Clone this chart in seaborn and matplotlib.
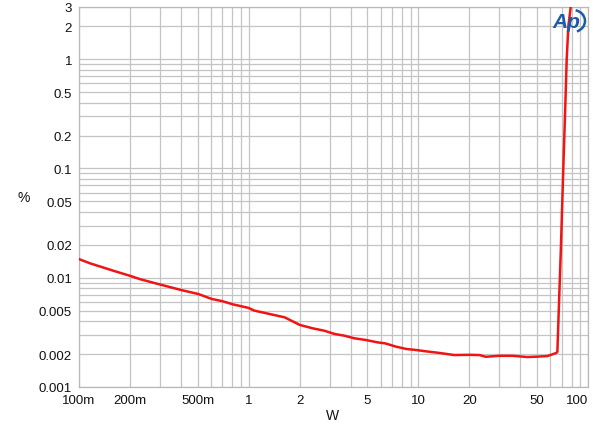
import numpy as np
import pandas as pd
import matplotlib
matplotlib.use("Agg")
import matplotlib.pyplot as plt
from matplotlib.patches import Arc
import seaborn as sns

# THD+N vs output power
power_w = [0.1, 0.116, 0.159, 0.2, 0.229, 0.274, 0.402, 0.504, 0.604, 0.700,
           0.809, 0.995, 1.08, 1.63, 2.0, 2.39, 2.80, 3.2, 3.66, 4.2,
           4.92, 5.76, 6.36, 7.39, 8.47, 9.7, 11.1, 13.3, 16.3, 20,
           22.9, 25, 30, 35.9, 44, 51.5, 57.7, 65.1, 66.0, 67.6,
           69.2, 71.5, 73.7, 74.9, 76.6, 79.1]
thd_pct = [0.0148, 0.01355, 0.0116, 0.0104, 0.0097, 0.0090, 0.0077, 0.0071, 0.0064, 0.0061,
           0.0057, 0.0053, 0.0050, 0.00434, 0.0037, 0.00344, 0.00327, 0.00306, 0.00295, 0.00279,
           0.00269, 0.00256, 0.00251, 0.00234, 0.00223, 0.00218, 0.00212, 0.00205, 0.00196, 0.00197,
           0.00196, 0.00189, 0.00193, 0.00193, 0.00188, 0.0019, 0.00192, 0.00205, 0.0021, 0.0064,
           0.0183, 0.099, 0.43, 1.0, 2.0, 3.0]

x_ticks = [0.1, 0.2, 0.5, 1, 2, 5, 10, 20, 50, 100]
x_labels = ["100m", "200m", "500m", "1", "2", "5", "10", "20", "50", "100"]
y_ticks = [0.001, 0.002, 0.005, 0.01, 0.02, 0.05, 0.1, 0.2, 0.5, 1, 2, 3]
y_labels = ["0.001", "0.002", "0.005", "0.01", "0.02", "0.05", "0.1", "0.2", "0.5", "1", "2", "3"]

df = pd.DataFrame({"W": power_w, "pct": thd_pct})

sns.set_style("white")
plt.rcParams["font.family"] = ["Liberation Sans", "DejaVu Sans"]

fig = plt.figure(figsize=(6, 4.27), dpi=100)
ax = fig.add_axes([79 / 600, 1 - 388 / 427, 509 / 600, 380 / 427])

grid_col = "#c4c4c4"
ax.set_xscale("log")
ax.set_yscale("log")
ax.set_xlim(0.1, 100)
ax.set_ylim(0.001, 3)

ax.grid(True, which="both", color=grid_col, linewidth=0.9)
ax.set_axisbelow(True)

sns.lineplot(data=df, x="W", y="pct", sort=False, estimator=None,
             color="#f01414", linewidth=1.8, ax=ax, zorder=5)

ax.set_xticks(x_ticks)
ax.set_xticklabels(x_labels)
ax.set_yticks(y_ticks)
ax.set_yticklabels(y_labels)
ax.xaxis.set_minor_formatter(matplotlib.ticker.NullFormatter())
ax.yaxis.set_minor_formatter(matplotlib.ticker.NullFormatter())
ax.tick_params(which="major", length=3, width=0.9, color=grid_col,
               labelsize=9.5, labelcolor="#111111", pad=2)
ax.tick_params(which="minor", length=0)
ax.get_xticklabels()[-1].set_horizontalalignment("right")

for s in ax.spines.values():
    s.set_color("#b8b8b8")
    s.set_linewidth(0.9)

ax.set_xlabel("W", fontsize=10, color="#111111", va="center")
ax.set_ylabel("%", fontsize=10, color="#111111", rotation=0, va="center", ha="center")
ax.xaxis.set_label_coords((333 - 79) / 509, -(416 - 388) / 380)
ax.yaxis.set_label_coords((24 - 79) / 509, (388 - 198) / 380)

# Audio Precision logo
logo_col = "#1d5aa8"
fig.text(566 / 600, 1 - 22 / 427, "Ap", fontsize=15, fontstyle="italic",
         fontweight="bold", color=logo_col, ha="center", va="center", zorder=4)
fig.patches.append(Arc((573 / 600, 1 - 22 / 427), 24 / 600, 22 / 427,
                       theta1=-75, theta2=80, color=logo_col, linewidth=1.8,
                       transform=fig.transFigure, figure=fig))

fig.savefig("out.png", dpi=100)
